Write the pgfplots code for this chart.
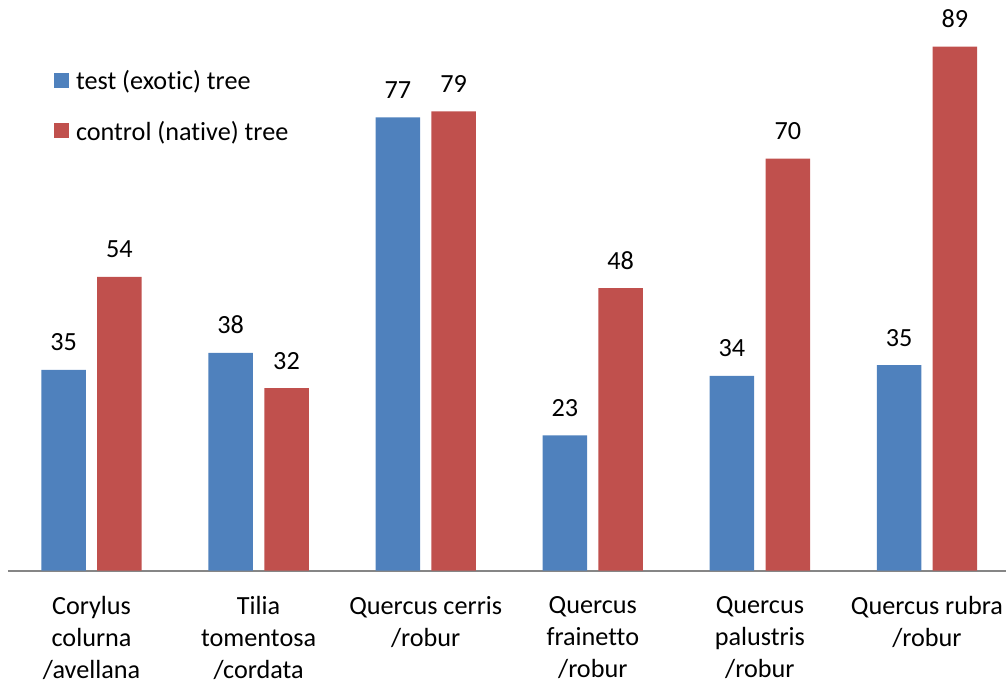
\documentclass[border=0pt]{standalone}
\usepackage{fontspec}
\setmainfont{Carlito}[Ligatures={NoCommon}]
\usepackage{pgfplots}
\usepackage{pgfplotstable}
\pgfplotsset{compat=1.18}
\definecolor{exoblue}{HTML}{4F81BD}
\definecolor{natred}{HTML}{C0504D}
\definecolor{axgray}{HTML}{868686}
\newcommand{\lblfont}{\fontsize{13.1}{16}\selectfont}

\pgfplotstableread{
x y lab
0 34.1 35
1 37.0 38
2 77.0 77
3 23.0 23
4 33.1 34
5 34.9 35
}\testdata

\pgfplotstableread{
x y lab
0 49.9 54
1 31.0 32
2 78.0 79
3 48.0 48
4 70.0 70
5 89.0 89
}\controldata

\begin{document}
\begin{tikzpicture}
\begin{axis}[
  scale only axis,
  width=499pt, height=285.35pt,
  xmin=-0.5, xmax=5.473,
  ymin=0, ymax=96.92,
  ybar=5.65pt,
  bar width=22.25pt,
  axis x line*=bottom,
  axis y line=none,
  x axis line style={draw=axgray, line width=1pt},
  xtick=data,
  xtick style={draw=none},
  ytick=\empty,
  xticklabels={{Corylus\\colurna\\/avellana},{Tilia\\tomentosa\\/cordata},{Quercus cerris\\/robur},{Quercus\\frainetto\\/robur},{Quercus\\palustris\\/robur},{Quercus rubra\\/robur}},
  xticklabel style={font=\lblfont, align=center, anchor=north, inner sep=0pt, yshift=-8.4pt, execute at begin node=\strut},
  point meta=explicit symbolic,
  nodes near coords={\pgfplotspointmeta},
  nodes near coords style={font=\lblfont, anchor=base, inner sep=0pt, yshift=9.5pt, text=black},
  legend cell align=left,
  legend image code/.code={\fill[#1] (0pt,-2.5pt) rectangle (7.5pt,5pt);},
  legend style={at={(axis description cs:0,1)}, anchor=north west, xshift=23pt, yshift=-34.85pt,
    draw=none, fill=none, inner sep=0pt, outer sep=0pt, font=\lblfont,
    column sep=3.5pt, row sep=12.3pt,
    nodes={inner sep=0pt, text height=10pt, text depth=3pt}},
]
\addplot[fill=exoblue, draw=none] table[x=x, y=y, meta=lab] {\testdata};
\addlegendentry{test (exotic) tree}
\addplot[fill=natred, draw=none] table[x=x, y=y, meta=lab] {\controldata};
\addlegendentry{control (native) tree}
\end{axis}
\pgfresetboundingbox
\path[use as bounding box] ([xshift=-4pt]current axis.north west) rectangle ([yshift=-56.15pt]current axis.south east);
\end{tikzpicture}
\end{document}
